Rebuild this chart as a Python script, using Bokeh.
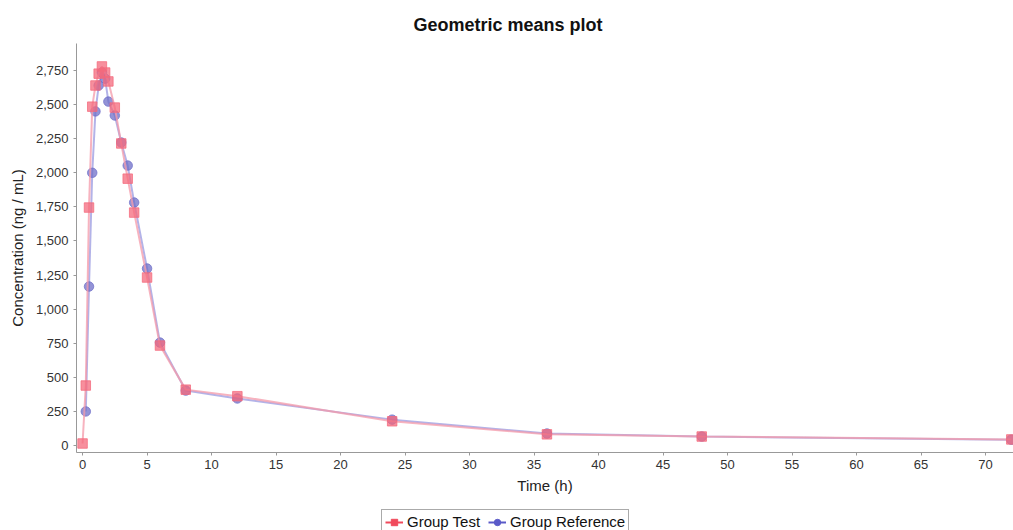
from bokeh.plotting import figure
from bokeh.layouts import column
from bokeh.models import (ColumnDataSource, Legend, LegendItem, FixedTicker,
                          NumeralTickFormatter, Range1d)
from bokeh.embed import file_html
from bokeh.resources import INLINE

# Time points (h)
time_test = [0, 0.25, 0.5, 0.75, 1, 1.25, 1.5, 1.75, 2, 2.5, 3, 3.5, 4, 5, 6, 8, 12, 24, 36, 48, 72]
conc_test = [15, 440, 1745, 2485, 2640, 2727, 2780, 2735, 2670, 2478, 2215, 1957, 1708, 1232, 733, 410, 362, 178, 82, 66, 45]

time_ref = [0.25, 0.5, 0.75, 1, 1.25, 1.5, 1.75, 2, 2.5, 3, 3.5, 4, 5, 6, 8, 12, 24, 36, 48, 72]
conc_ref = [250, 1166, 2000, 2450, 2640, 2735, 2690, 2522, 2420, 2222, 2053, 1782, 1298, 755, 403, 345, 190, 88, 66, 43]

series_names = ["Group Test", "Group Reference"]
x_ticks = list(range(0, 71, 5))
y_ticks = list(range(0, 2751, 250))

FONT = "Liberation Sans"

p = figure(width=1013, height=505, output_backend="svg", toolbar_location=None,
           x_range=Range1d(-0.47, 72.17), y_range=Range1d(-51, 2948),
           min_border_left=76, min_border_right=0, min_border_top=43,
           min_border_bottom=53)
p.background_fill_color = "white"
p.border_fill_color = "white"
p.outline_line_color = None
p.grid.visible = False

p.title.text = "Geometric means plot"
p.title.align = "left"
p.title.offset = 337
p.title.standoff = 18
p.title.text_font = FONT
p.title.text_font_size = "18px"
p.title.text_font_style = "bold"
p.title.text_color = "#111111"

src_t = ColumnDataSource(dict(x=time_test, y=conc_test))
src_r = ColumnDataSource(dict(x=time_ref, y=conc_ref))

p.line("x", "y", source=src_r, line_color="#9a9ae0", line_width=2, line_alpha=0.75)
p.scatter("x", "y", source=src_r, marker="circle", size=9.5,
          fill_color="#6f6fc8", fill_alpha=0.75, line_color="#6f6fc8", line_alpha=0.75)
p.line("x", "y", source=src_t, line_color="#f49aaa", line_width=2, line_alpha=0.75)
p.scatter("x", "y", source=src_t, marker="square", size=9.5,
          fill_color="#f46a7c", fill_alpha=0.75, line_color="#f46a7c", line_alpha=0.75)

for ax in (p.xaxis[0], p.yaxis[0]):
    ax.axis_line_color = "#999999"
    ax.major_tick_line_color = "#999999"
    ax.major_tick_in = 0
    ax.major_tick_out = 3
    ax.minor_tick_line_color = None
    ax.major_label_text_font = FONT
    ax.major_label_text_font_size = "13px"
    ax.major_label_text_color = "#333333"
    ax.axis_label_text_font = FONT
    ax.axis_label_text_font_size = "15px"
    ax.axis_label_text_font_style = "normal"
    ax.axis_label_text_color = "#222222"

p.xaxis[0].ticker = FixedTicker(ticks=x_ticks)
p.yaxis[0].ticker = FixedTicker(ticks=y_ticks)
p.yaxis[0].formatter = NumeralTickFormatter(format="0,0")
p.xaxis[0].axis_label = "Time (h)"
p.yaxis[0].axis_label = "Concentration (ng / mL)"
p.xaxis[0].major_label_standoff = 4
p.xaxis[0].axis_label_standoff = 5
p.yaxis[0].major_label_standoff = 5
p.yaxis[0].axis_label_standoff = 7

# Legend strip below the chart
p2 = figure(width=1013, height=25, output_backend="svg", toolbar_location=None,
            x_range=Range1d(0, 1), y_range=Range1d(0, 1),
            min_border_left=0, min_border_right=0, min_border_top=0, min_border_bottom=0)
p2.axis.visible = False
p2.grid.visible = False
p2.outline_line_color = None
p2.background_fill_color = "white"
p2.border_fill_color = "white"

far = dict(x=[-10, -9], y=[-10, -9])
l2t = p2.line(x=far["x"], y=far["y"], line_color="#f04a5c", line_width=2)
s2t = p2.scatter(x=far["x"], y=far["y"], marker="square", size=8,
                 fill_color="#f04a5c", line_color="#f04a5c")
l2r = p2.line(x=far["x"], y=far["y"], line_color="#5a5ac8", line_width=2)
s2r = p2.scatter(x=far["x"], y=far["y"], marker="circle", size=8,
                 fill_color="#5a5ac8", line_color="#5a5ac8")

legend = Legend(items=[
    LegendItem(label=series_names[0], renderers=[l2t, s2t]),
    LegendItem(label=series_names[1], renderers=[l2r, s2r]),
], orientation="horizontal", location=(305, -4))
legend.label_text_font = FONT
legend.label_text_font_size = "15px"
legend.label_text_color = "#111111"
legend.border_line_color = "#555555"
legend.border_line_width = 1
legend.background_fill_color = "white"
legend.padding = 3
legend.spacing = 8
legend.margin = 0
legend.glyph_width = 18
legend.glyph_height = 16
legend.label_standoff = 4
legend.label_height = 16
p2.add_layout(legend, "center")

open("out.html", "w").write(file_html(column(p, p2, spacing=0), INLINE))
